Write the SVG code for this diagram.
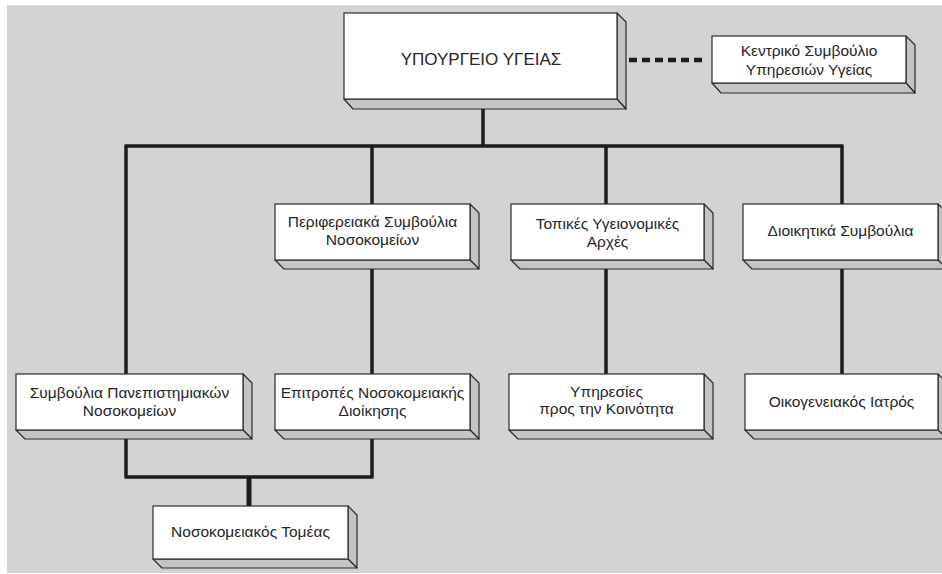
<svg xmlns="http://www.w3.org/2000/svg" width="942" height="574" viewBox="0 0 942 574">
<defs>
<style>
.bg{fill:#ffffff}
.panel{fill:#d3d3d3}
.front{fill:#ffffff;stroke:#2a2a2a;stroke-width:1.2}
.side{fill:#c4c4c4;stroke:#2a2a2a;stroke-width:1.2;stroke-linejoin:round}
.t{font-family:"Liberation Sans","DejaVu Sans",sans-serif;font-size:15.5px;fill:#262626;text-anchor:middle}
.big{font-size:17px}
.c{stroke:#1c1c1c;stroke-width:3.5;fill:none}
.thick{stroke-width:5}
.dash{stroke:#1c1c1c;stroke-width:4.5;stroke-dasharray:8 5;fill:none}
</style>
</defs>
<rect class="bg" x="0" y="0" width="942" height="574"/>
<rect class="panel" x="7" y="5" width="935" height="568"/>

<g id="connectors">
<path class="c" d="M483 109 V146"/>
<path class="c" d="M124.5 146 H843.5"/>
<path class="c" d="M126 146 V374"/>
<path class="c" d="M372 146 V204 M372 269 V374 M372 439 V477"/>
<path class="c" d="M606 146 V204 M606 269 V374"/>
<path class="c" d="M842 146 V204 M842 269 V374"/>
<path class="c" d="M126 439 V477 M124.5 477 H373.5"/>
<path class="c thick" d="M249 477 V506"/>
<path class="dash" d="M629 60 H703"/>
</g>

<g id="ministry">
<polygon class="side" points="617,13 626,22 626,109 617,99"/>
<polygon class="side" points="344,99 617,99 626,109 353,109"/>
<rect class="front" x="344" y="13" width="273" height="86"/>
<text class="t big" x="481" y="65">ΥΠΟΥΡΓΕΙΟ ΥΓΕΙΑΣ</text>
</g>

<g id="central-council">
<polygon class="side" points="906,36 915,45 915,93 906,83"/>
<polygon class="side" points="712,83 906,83 915,93 721,93"/>
<rect class="front" x="712" y="36" width="194" height="47"/>
<text class="t" x="809" y="56">Κεντρικό Συμβούλιο</text>
<text class="t" x="809" y="75">Υπηρεσιών Υγείας</text>
</g>

<g id="regional-councils">
<polygon class="side" points="470,204 479,213 479,269 470,260"/>
<polygon class="side" points="275,260 470,260 479,269 284,269"/>
<rect class="front" x="275" y="204" width="195" height="56"/>
<text class="t" x="372.5" y="227">Περιφερειακά Συμβούλια</text>
<text class="t" x="372.5" y="245">Νοσοκομείων</text>
</g>

<g id="local-authorities">
<polygon class="side" points="704,204 713,213 713,269 704,260"/>
<polygon class="side" points="511,260 704,260 713,269 520,269"/>
<rect class="front" x="511" y="204" width="193" height="56"/>
<text class="t" x="607.5" y="229">Τοπικές Υγειονομικές</text>
<text class="t" x="607.5" y="247">Αρχές</text>
</g>

<g id="admin-councils">
<polygon class="side" points="938,204 947,213 947,269 938,260"/>
<polygon class="side" points="743,260 938,260 947,269 752,269"/>
<rect class="front" x="743" y="204" width="195" height="56"/>
<text class="t" x="840.5" y="236">Διοικητικά Συμβούλια</text>
</g>

<g id="university-councils">
<polygon class="side" points="243,374 252,383 252,439 243,430"/>
<polygon class="side" points="16,430 243,430 252,439 25,439"/>
<rect class="front" x="16" y="374" width="227" height="56"/>
<text class="t" x="129.5" y="398">Συμβούλια Πανεπιστημιακών</text>
<text class="t" x="129.5" y="416">Νοσοκομείων</text>
</g>

<g id="hospital-committees">
<polygon class="side" points="470,374 479,383 479,439 470,430"/>
<polygon class="side" points="275,430 470,430 479,439 284,439"/>
<rect class="front" x="275" y="374" width="195" height="56"/>
<text class="t" x="372.5" y="398">Επιτροπές Νοσοκομειακής</text>
<text class="t" x="372.5" y="416">Διοίκησης</text>
</g>

<g id="community-services">
<polygon class="side" points="704,374 713,383 713,439 704,430"/>
<polygon class="side" points="509,430 704,430 713,439 518,439"/>
<rect class="front" x="509" y="374" width="195" height="56"/>
<text class="t" x="606.5" y="397">Υπηρεσίες</text>
<text class="t" x="606.5" y="414">προς την Κοινότητα</text>
</g>

<g id="family-doctor">
<polygon class="side" points="938,374 947,383 947,439 938,430"/>
<polygon class="side" points="745,430 938,430 947,439 754,439"/>
<rect class="front" x="745" y="374" width="193" height="56"/>
<text class="t" x="841.5" y="407">Οικογενειακός Ιατρός</text>
</g>

<g id="hospital-sector">
<polygon class="side" points="348,506 357,515 357,568 348,559"/>
<polygon class="side" points="153,559 348,559 357,568 162,568"/>
<rect class="front" x="153" y="506" width="195" height="53"/>
<text class="t" x="250.5" y="537">Νοσοκομειακός Τομέας</text>
</g>
</svg>
